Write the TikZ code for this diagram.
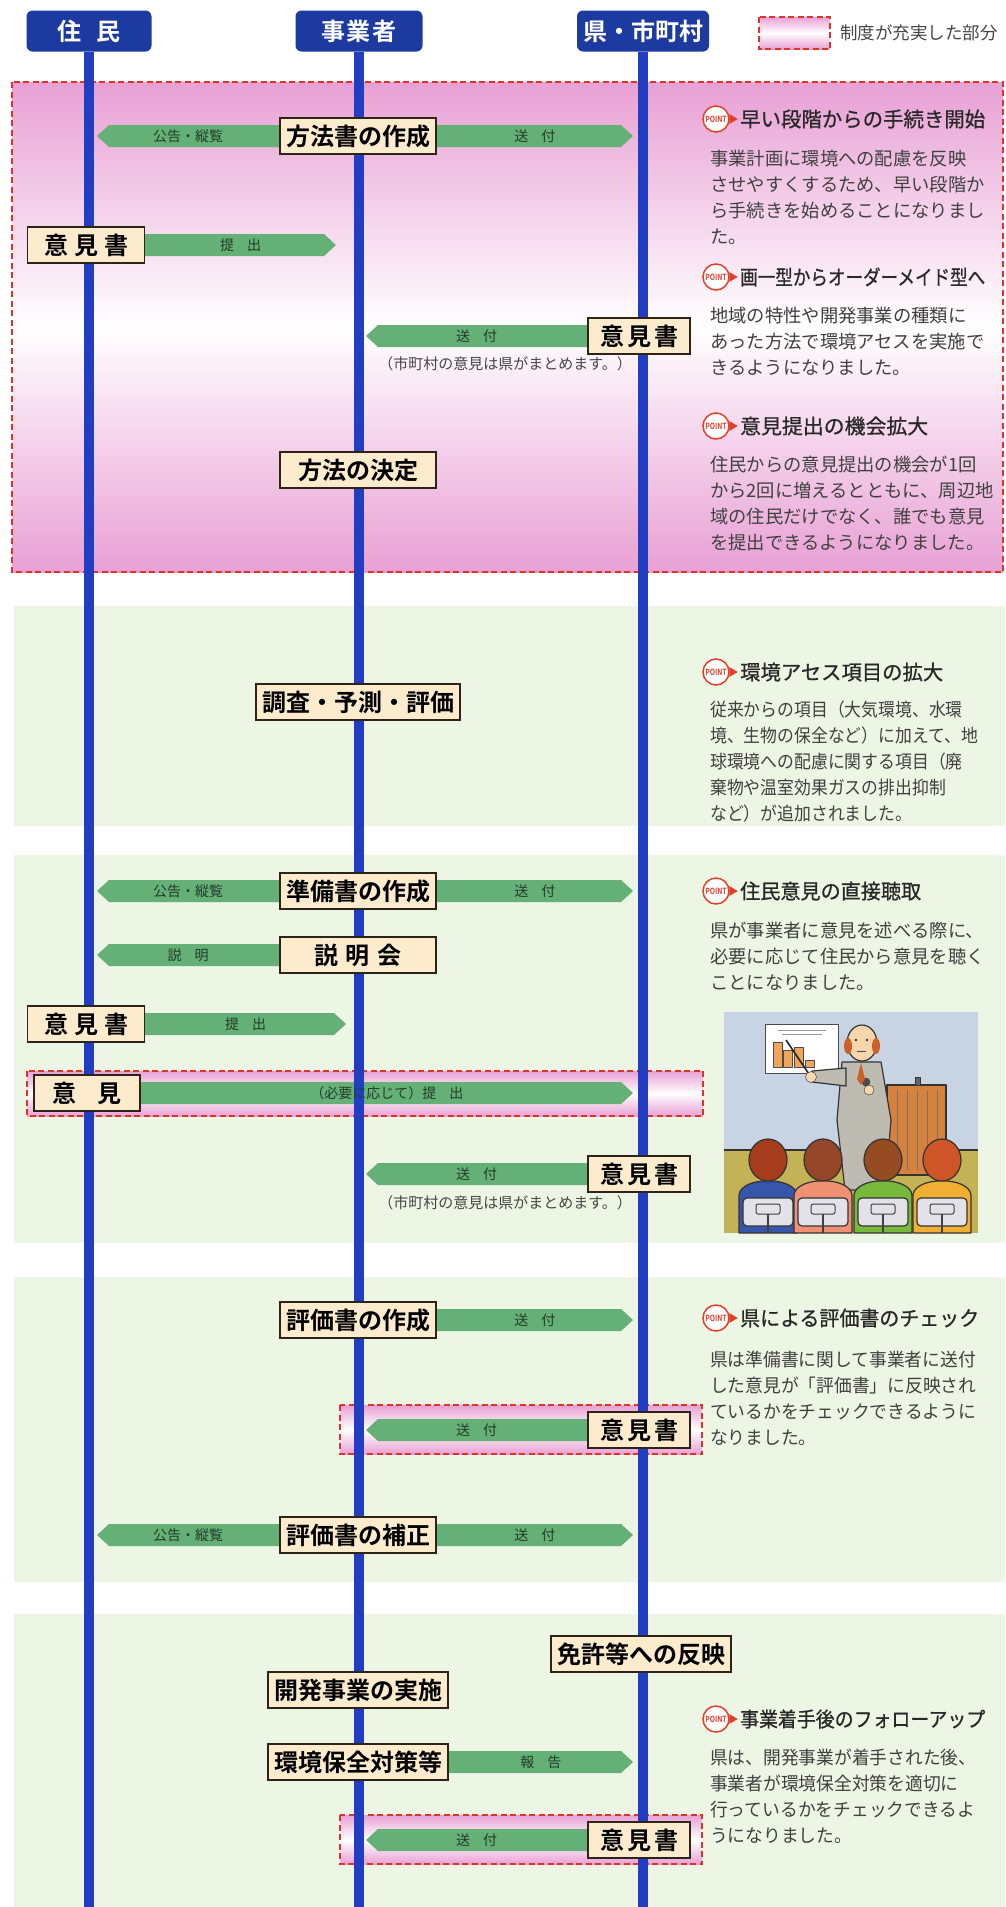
\documentclass[tikz,border=0pt]{standalone}
\usepackage{fontspec}
\newfontfamily\jp{Noto Sans CJK JP}
\newfontfamily\jpb{Noto Sans CJK JP Bold}
\newfontfamily\jpm{Noto Sans CJK JP}[FakeBold=0.8]
\usetikzlibrary{calc}
\pgfdeclarelayer{bg}
\pgfdeclarelayer{flows}
\pgfdeclarelayer{lanes}
\pgfsetlayers{bg,flows,lanes,main}

\definecolor{lifeblue}{RGB}{33,62,195}
\definecolor{headblue}{RGB}{28,58,160}
\definecolor{pinkA}{RGB}{232,160,212}
\definecolor{bandred}{RGB}{222,52,40}
\definecolor{greenbg}{RGB}{237,246,228}
\definecolor{boxfill}{RGB}{252,235,205}
\definecolor{boxline}{RGB}{45,35,25}
\definecolor{flowgreen}{RGB}{100,176,118}
\definecolor{flowtext}{RGB}{35,60,42}
\definecolor{bodygray}{RGB}{64,64,64}
\definecolor{titlegray}{RGB}{40,40,40}
\definecolor{notegray}{RGB}{70,70,70}
\definecolor{pointred}{RGB}{228,62,40}
\definecolor{illsky}{RGB}{200,212,228}
\definecolor{illfloor}{RGB}{196,178,86}
\definecolor{illsuit}{RGB}{190,188,178}
\definecolor{illskin}{RGB}{246,214,170}
\definecolor{illhair}{RGB}{205,95,40}
\definecolor{illwood}{RGB}{214,130,60}
\definecolor{illbar}{RGB}{240,165,90}
\definecolor{illchair}{RGB}{226,226,232}
\definecolor{hairA}{RGB}{165,60,30}
\definecolor{hairB}{RGB}{150,70,40}
\definecolor{hairC}{RGB}{150,75,35}
\definecolor{hairD}{RGB}{205,85,40}
\definecolor{coatA}{RGB}{55,85,170}
\definecolor{coatB}{RGB}{240,145,115}
\definecolor{coatC}{RGB}{120,185,60}
\definecolor{coatD}{RGB}{240,175,50}

\tikzset{
  lanehead/.style={fill=headblue, rounded corners=6pt, text=white,
    font=\jpb\fontsize{24}{24}\selectfont, minimum height=41pt, inner sep=0pt},
  lifeline/.style={draw=lifeblue, line width=10pt},
  stage/.style={draw=boxline, line width=1.8pt, fill=boxfill,
    font=\jpb\fontsize{24}{24}\selectfont, minimum height=36pt,
    inner xsep=6pt, inner ysep=0pt},
  flowfill/.style={fill=flowgreen},
  flowlabel/.style={font=\jp\fontsize{14}{14}\selectfont, text=flowtext, inner sep=0pt},
  reddash/.style={draw=bandred, line width=1.8pt, dash pattern=on 6pt off 3.5pt},
  pinkfade/.style={top color=pinkA, bottom color=pinkA, middle color=white},
  note/.style={font=\jp\fontsize{15}{15}\selectfont, text=notegray, inner sep=0pt},
  bodyline/.style={font=\jp\fontsize{18.3}{26}\selectfont, text=bodygray,
    inner sep=0pt, anchor=base west},
  ptitle/.style={font=\jpm\fontsize{20.5}{20.5}\selectfont, text=titlegray,
    inner sep=0pt, anchor=west},
  pointring/.style={circle, draw=pointred, line width=1.5pt, fill=white,
    minimum size=26pt, inner sep=0pt, text=pointred,
    font=\jpb\fontsize{8.5}{8.5}\selectfont},
}

% arrow band running right / left from a box to a tip coordinate
\newcommand\flowR[4]{%
  \begin{pgfonlayer}{flows}
  \fill[flowfill] ($(#1.center)+(0,-11)$) -- ($(#2 |- #1.center)+(-12,-11)$)
    -- (#2 |- #1.center) -- ($(#2 |- #1.center)+(-12,11)$)
    -- ($(#1.center)+(0,11)$) -- cycle;
  \end{pgfonlayer}
  \node[flowlabel] (#3) at ($(#1.east)!0.5!(#2 |- #1.east)$) {#4};}
\newcommand\flowL[4]{%
  \begin{pgfonlayer}{flows}
  \fill[flowfill] ($(#1.center)+(0,-11)$) -- ($(#2 |- #1.center)+(12,-11)$)
    -- (#2 |- #1.center) -- ($(#2 |- #1.center)+(12,11)$)
    -- ($(#1.center)+(0,11)$) -- cycle;
  \end{pgfonlayer}
  \node[flowlabel] (#3) at ($(#1.west)!0.5!(#2 |- #1.west)$) {#4};}

% POINT mark with its heading: name, y, heading width, heading
\newcommand\pointhead[4]{%
  \node[pointring] (#1) at (716,#2) {\scalebox{0.8}[1]{POINT}};
  \fill[pointred] ($(#1.east)+(-0.5,-5)$) -- ++(8.5,5) -- ++(-8.5,5) -- cycle;
  \node[ptitle] (#1-title) at (740,#2) {\resizebox{#3pt}{\height}{#4}};}
% explanatory lines: name, centre y of first line, horizontal squeeze, lines
\newcommand\pointbody[4]{%
  \foreach \ln [count=\k] in {#4}
    \node[bodyline] (#1-\k) at (710,{#2+7+26*(\k-1)}) {\scalebox{#3}[1]{\ln}};}

\begin{document}
\begin{tikzpicture}[x=1pt,y=-1pt]
\useasboundingbox (0,0) rectangle (1005,1907);

% ---------- backgrounds ----------
\begin{pgfonlayer}{bg}
  \fill[white] (0,0) rectangle (1005,1907);
  \shade[pinkfade] (12,82) rectangle (1003,572);
  \draw[reddash] (12,82) rectangle (1003,572);
  \fill[greenbg] (14,606) rectangle (1005,826);
  \fill[greenbg] (14,855) rectangle (1005,1243);
  \fill[greenbg] (14,1277) rectangle (1005,1582);
  \fill[greenbg] (14,1614) rectangle (1005,1907);
  \shade[pinkfade] (27,1071) rectangle (703,1116);
  \draw[reddash] (27,1071) rectangle (703,1116);
  \shade[pinkfade] (340,1405) rectangle (702,1454);
  \draw[reddash] (340,1405) rectangle (702,1454);
  \shade[pinkfade] (340,1815) rectangle (702,1864);
  \draw[reddash] (340,1815) rectangle (702,1864);
  % legend
  \shade[pinkfade] (759,17) rectangle (830,49);
  \draw[reddash] (759,17) rectangle (830,49);
\end{pgfonlayer}
\node[anchor=west, inner sep=0pt, font=\jp\fontsize{17.5}{17.5}\selectfont, text=notegray]
  (legend) at (840,33) {制度が充実した部分};

% ---------- lane heads and lifelines ----------
\node[lanehead, minimum width=125pt] (res) at (89,31) {住\hspace{16pt}民};
\node[lanehead, minimum width=127pt] (biz) at (359,31) {事\hspace{2pt}業\hspace{2pt}者};
\node[lanehead, minimum width=132pt] (gov) at (643,31) {県・市町村};
\coordinate (resEnd) at (89,1907);
\coordinate (bizEnd) at (359,1907);
\coordinate (govEnd) at (643,1907);
\begin{pgfonlayer}{lanes}
  \draw[lifeline] (res.south) -- (resEnd);
  \draw[lifeline] (biz.south) -- (bizEnd);
  \draw[lifeline] (gov.south) -- (govEnd);
\end{pgfonlayer}

% tips of the arrow bands
\coordinate (tipRes) at (97,0);
\coordinate (tipGov) at (633,0);
\coordinate (tipBiz) at (366,0);
\coordinate (tipSub) at (336,0);
\coordinate (tipSubB) at (346,0);

% ---------- scoping ----------
\node[stage, minimum width=156pt] (m1) at (358,136) {方法書の作成};
\flowL{m1}{tipRes}{l1}{公告・縦覧}
\flowR{m1}{tipGov}{l2}{送\hspace{13pt}付}
\node[stage, minimum width=117pt] (o1) at (86,245) {意\hspace{6pt}見\hspace{6pt}書};
\flowR{o1}{tipSub}{l3}{提\hspace{13pt}出}
\node[stage, minimum width=102pt] (g1) at (639,336) {意\hspace{3pt}見\hspace{3pt}書};
\flowL{g1}{tipBiz}{l4}{送\hspace{13pt}付}
\node[note] (c1) at (505,364) {（市町村の意見は県がまとめます。）};
\node[stage, minimum width=156pt] (m2) at (358,470) {方法の決定};

\pointhead{p1}{119}{245}{早い段階からの手続き開始}
\pointbody{p1b}{158}{1}{事業計画に環境への配慮を反映,させやすくするため、早い段階か,ら手続きを始めることになりまし,た。}
\pointhead{p2}{277}{245}{画一型からオーダーメイド型へ}
\pointbody{p2b}{315}{1}{地域の特性や開発事業の種類に,あった方法で環境アセスを実施で,きるようになりました。}
\pointhead{p3}{426}{188}{意見提出の機会拡大}
\pointbody{p3b}{464}{1}{住民からの意見提出の機会が1回,から2回に増えるとともに、周辺地,域の住民だけでなく、誰でも意見,を提出できるようになりました。}

% ---------- survey ----------
\node[stage] (m3) at (358,702) {調査・予測・評価};
\pointhead{p4}{672}{203}{環境アセス項目の拡大}
\pointbody{p4b}{709}{0.92}{従来からの項目（大気環境、水環,境、生物の保全など）に加えて、地,球環境への配慮に関する項目（廃,棄物や温室効果ガスの排出抑制,など）が追加されました。}

% ---------- draft statement ----------
\node[stage, minimum width=156pt] (m4) at (358,891) {準備書の作成};
\flowL{m4}{tipRes}{l5}{公告・縦覧}
\flowR{m4}{tipGov}{l6}{送\hspace{13pt}付}
\node[stage, minimum width=156pt] (m5) at (358,955) {説\hspace{8pt}明\hspace{8pt}会};
\flowL{m5}{tipRes}{l7}{説\hspace{13pt}明}
\node[stage, minimum width=117pt] (o2) at (86,1024) {意\hspace{6pt}見\hspace{6pt}書};
\flowR{o2}{tipSubB}{l8}{提\hspace{13pt}出}
\node[stage, minimum width=106pt] (o3) at (87,1093) {意\hspace{22pt}見};
\flowR{o3}{tipGov}{l9}{（必要に応じて）提\hspace{13pt}出}
\node[stage, minimum width=102pt] (g2) at (639,1174) {意\hspace{3pt}見\hspace{3pt}書};
\flowL{g2}{tipBiz}{l10}{送\hspace{13pt}付}
\node[note] (c2) at (505,1203) {（市町村の意見は県がまとめます。）};
\pointhead{p5}{891}{181}{住民意見の直接聴取}
\pointbody{p5b}{930}{1}{県が事業者に意見を述べる際に、,必要に応じて住民から意見を聴く,ことになりました。}

% briefing scene
\begin{scope}[line join=round]
  \fill[illsky] (724,1012) rectangle (978,1233);
  \fill[illfloor] (724,1150) rectangle (978,1233);
  \draw[black!80, line width=1.2pt] (724,1150) -- (978,1150);
  \filldraw[fill=white, draw=black!70, line width=1pt] (765,1024) rectangle (838,1073);
  \draw[black!40, line width=0.8pt] (778,1030) -- (826,1030) (782,1034) -- (822,1034);
  \filldraw[fill=illbar, draw=black!70, line width=0.8pt]
    (773,1042) rectangle (782,1067) (783,1050) rectangle (792,1067)
    (794,1047) rectangle (803,1067) (805,1060) rectangle (814,1067);
  \filldraw[fill=illwood, draw=black!80, line width=1.2pt] (887,1085) rectangle (946,1175);
  \draw[black!55, line width=0.8pt] (897,1090) -- (897,1170) (907,1090) -- (907,1170)
    (917,1090) -- (917,1170) (927,1090) -- (927,1170) (937,1090) -- (937,1170);
  \filldraw[fill=black!60, draw=black!80] (915,1077) rectangle (920,1085);
  \filldraw[fill=illsuit, draw=black!80, line width=1.2pt]
    (842,1062) -- (881,1062) -- (891,1120) -- (885,1190) -- (845,1190) -- (837,1120) -- cycle;
  \filldraw[fill=illsuit, draw=black!80, line width=1.2pt]
    (846,1068) -- (812,1071) -- (812,1082) -- (846,1086) -- cycle;
  \draw[black!85, line width=1.6pt] (811,1077) -- (786,1040);
  \filldraw[fill=illskin, draw=black!80] (811,1077) circle (5.5);
  \filldraw[fill=black!70, draw=black!80] (866,1082) circle (4);
  \filldraw[fill=illskin, draw=black!80] (869,1090) circle (5);
  \fill[illhair] (861,1063) -- (857,1079) -- (861,1085) -- (865,1079) -- cycle;
  \filldraw[fill=illskin, draw=black!80, line width=1.2pt] (862,1043) ellipse (15 and 18);
  \fill[illhair] (848,1046) ellipse (4 and 8) (876,1046) ellipse (4 and 8);
  \fill[black!80] (856,1040) circle (1.3) (867,1040) circle (1.3);
  \draw[black!70, line width=0.8pt] (857,1051) -- (866,1051);
  \foreach \ax/\hc/\bc in {768/hairA/coatA, 823/hairB/coatB, 883/hairC/coatC, 942/hairD/coatD} {
    \filldraw[fill=\bc, draw=black!80, line width=1.2pt]
      ({\ax-29},1233) -- ({\ax-29},1195) .. controls ({\ax-27},1176) and ({\ax+27},1176)
      .. ({\ax+29},1195) -- ({\ax+29},1233) -- cycle;
    \filldraw[fill=\hc, draw=black!80, line width=1.2pt] (\ax,1160) ellipse (19 and 21);
    \filldraw[fill=illchair, draw=black!80, line width=1.2pt, rounded corners=4pt]
      ({\ax-25},1198) rectangle ({\ax+25},1226);
    \draw[black!75, line width=1pt, rounded corners=2pt] ({\ax-12},1204) rectangle ({\ax+12},1214);
    \draw[black!75, line width=1.2pt] (\ax,1214) -- (\ax,1233);
  }
\end{scope}

% ---------- final statement ----------
\node[stage, minimum width=156pt] (m6) at (358,1320) {評価書の作成};
\flowR{m6}{tipGov}{l11}{送\hspace{13pt}付}
\node[stage, minimum width=102pt] (g3) at (639,1430) {意\hspace{3pt}見\hspace{3pt}書};
\flowL{g3}{tipBiz}{l12}{送\hspace{13pt}付}
\node[stage, minimum width=156pt] (m7) at (358,1535) {評価書の補正};
\flowL{m7}{tipRes}{l13}{公告・縦覧}
\flowR{m7}{tipGov}{l14}{送\hspace{13pt}付}
\pointhead{p6}{1318}{239}{県による評価書のチェック}
\pointbody{p6b}{1359}{0.97}{県は準備書に関して事業者に送付,した意見が「評価書」に反映され,ているかをチェックできるように,なりました。}

% ---------- follow-up ----------
\node[stage] (g4) at (641,1654) {免許等への反映};
\node[stage] (m8) at (358,1690) {開発事業の実施};
\node[stage] (m9) at (358,1762) {環境保全対策等};
\flowR{m9}{tipGov}{l15}{報\hspace{13pt}告}
\node[stage, minimum width=102pt] (g5) at (639,1840) {意\hspace{3pt}見\hspace{3pt}書};
\flowL{g5}{tipBiz}{l16}{送\hspace{13pt}付}
\pointhead{p7}{1719}{245}{事業着手後のフォローアップ}
\pointbody{p7b}{1757}{0.97}{県は、開発事業が着手された後、,事業者が環境保全対策を適切に,行っているかをチェックできるよ,うになりました。}
\end{tikzpicture}
\end{document}
